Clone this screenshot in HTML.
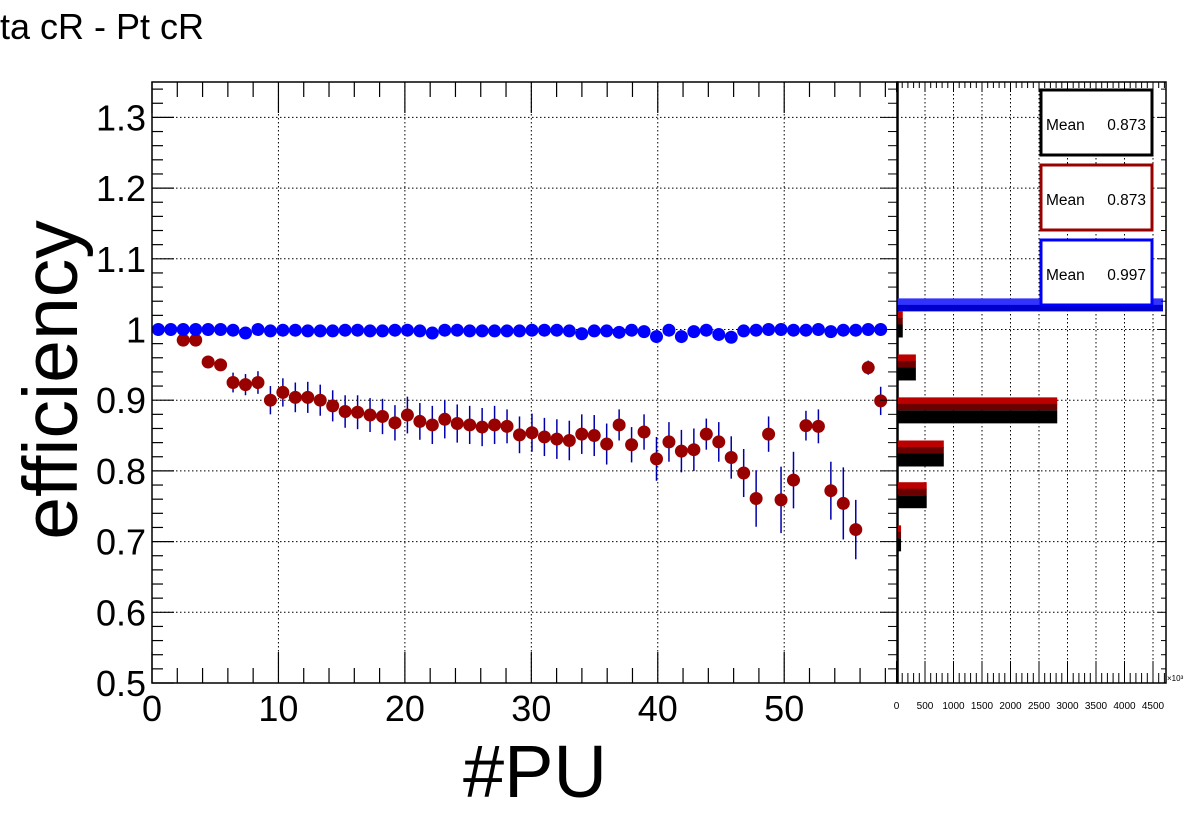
<!DOCTYPE html>
<html><head><meta charset="utf-8">
<style>
html,body{margin:0;padding:0;background:#fff;}
svg{display:block;font-family:"Liberation Sans",sans-serif;}
</style></head>
<body>
<svg id="chart" width="1196" height="822" viewBox="0 0 1196 822" xmlns="http://www.w3.org/2000/svg">
<text x="0" y="39" font-size="36" fill="#000">ta cR - Pt cR</text>
<g id="main"></g>
<g id="side"></g>
<text transform="translate(77,380) rotate(-90)" text-anchor="middle" font-size="77" fill="#000">efficiency</text>
<text x="535" y="797" text-anchor="middle" font-size="74" fill="#000">#PU</text>
</svg>
<script>
// ---- data ----
const blueVals = [1.0,1.0,1.0,1.0,1.0,1.0,0.999,0.995,1.0,0.998,0.999,0.999,0.998,0.998,0.998,0.999,0.999,0.998,0.998,0.999,0.999,0.998,0.995,0.999,0.999,0.998,0.998,0.998,0.998,0.998,0.999,0.999,0.999,0.998,0.994,0.998,0.998,0.996,0.999,0.997,0.990,0.999,0.990,0.997,0.999,0.993,0.989,0.998,0.999,1.0,1.0,0.999,0.999,1.0,0.997,0.999,0.999,1.0,1.0];
const redStart = 2;
const redVals = [0.985,0.985,0.954,0.950,0.925,0.922,0.925,0.900,0.911,0.904,0.904,0.900,0.892,0.884,0.883,0.879,0.877,0.868,0.879,0.870,0.865,0.873,0.867,0.865,0.862,0.865,0.863,0.851,0.854,0.848,0.845,0.843,0.852,0.850,0.838,0.865,0.837,0.855,0.817,0.841,0.828,0.830,0.852,0.841,0.819,0.797,0.761,0.852,0.759,0.787,0.864,0.863,0.772,0.754,0.717,0.946,0.899];
const redErrs = [0.004,0.004,0.006,0.008,0.014,0.015,0.016,0.02,0.02,0.021,0.022,0.022,0.022,0.023,0.024,0.024,0.025,0.025,0.026,0.026,0.027,0.027,0.027,0.027,0.027,0.027,0.024,0.026,0.027,0.027,0.028,0.028,0.028,0.029,0.029,0.022,0.025,0.025,0.031,0.028,0.03,0.03,0.022,0.028,0.03,0.034,0.04,0.025,0.047,0.04,0.021,0.024,0.041,0.051,0.042,0.01,0.02];
const yTicks = [0.5,0.6,0.7,0.8,0.9,1,1.1,1.2,1.3];
const yTickLabels = ["0.5","0.6","0.7","0.8","0.9","1","1.1","1.2","1.3"];
const xTicks = [0,10,20,30,40,50];
const xTickLabels = ["0","10","20","30","40","50"];
// projection histogram
const binTops = [1.0255,0.9647,0.904,0.843,0.784,0.723];
const binCounts = [110,340,2820,830,530,80];
const blueBinTop = 1.044;
const blueCount = 5600;
const sideTicks = [0,500,1000,1500,2000,2500,3000,3500,4000,4500];
const sideTickLabels = ["0","500","1000","1500","2000","2500","3000","3500","4000","4500"];
const statMeans = ["0.873","0.873","0.997"];

// ---- geometry ----
const NS="http://www.w3.org/2000/svg";
const L=152,R=898,T=82,B=683;
const SL=897,SR=1166;
const xMin=0,xMax=59;
const xs=v=>L+(v-xMin)/(xMax-xMin)*(R-L);
const ys=v=>683-(v-0.5)*707;
const ss=v=>896.5+v*(28.5/500);
const step=0.985;
const xIdx=i=>xs(0.5+i*step);
function mk(tag,attrs,parent){const e=document.createElementNS(NS,tag);for(const k in attrs)e.setAttribute(k,attrs[k]);parent.appendChild(e);return e;}
const main=document.getElementById('main');
const side=document.getElementById('side');

yTicks.forEach(v=>{const g=mk('line',{x1:L,x2:R,y1:ys(v),y2:ys(v),stroke:'#000','stroke-width':1,'stroke-dasharray':'1.5,2.5'},main);

});
xTicks.forEach(v=>{if(v===0)return;const g=mk('line',{x1:xs(v),x2:xs(v),y1:T,y2:B,stroke:'#000','stroke-width':1,'stroke-dasharray':'1.5,2.5'},main);

});
for(let v=0.5;v<=1.35001;v+=0.02){const maj=Math.abs(v*10-Math.round(v*10))<0.01;const len=maj?22:11;
mk('line',{x1:L,x2:L+len,y1:ys(v),y2:ys(v),stroke:'#000','stroke-width':1.2},main);}
for(let v=0;v<=59;v+=2){const maj=v%10===0;const len=maj?31:15;
mk('line',{x1:xs(v),x2:xs(v),y1:B,y2:B-len,stroke:'#000','stroke-width':1.2},main);
mk('line',{x1:xs(v),x2:xs(v),y1:T,y2:T+len,stroke:'#000','stroke-width':1.2},main);}
yTicks.forEach((v,i)=>{const t=mk('text',{x:146,y:ys(v)+13,'text-anchor':'end','font-size':36,fill:'#000'},main);t.textContent=yTickLabels[i];

});
xTicks.forEach((v,i)=>{const t=mk('text',{x:xs(v),y:721,'text-anchor':'middle','font-size':36,fill:'#000'},main);t.textContent=xTickLabels[i];

});

redVals.forEach((v,k)=>{const i=k+redStart;const x=xIdx(i);const e=redErrs[k];
mk('line',{x1:x,x2:x,y1:ys(v+e),y2:ys(v-e),stroke:'#0000aa','stroke-width':1.5},main);
mk('line',{x1:x-6,x2:x+6,y1:ys(v),y2:ys(v),stroke:'#0000aa','stroke-width':1},main);
const c=mk('circle',{cx:x,cy:ys(v),r:6.5,fill:'#990000'},main);

});
blueVals.forEach((v,i)=>{const x=xIdx(i);
const c=mk('circle',{cx:x,cy:ys(v),r:6.5,fill:'#0000ff'},main);

});
mk('rect',{x:L,y:T,width:R-L,height:B-T,fill:'none',stroke:'#000','stroke-width':1.5},main);

sideTicks.forEach(v=>{if(v===0)return;const g=mk('line',{x1:ss(v),x2:ss(v),y1:T,y2:B,stroke:'#000','stroke-width':1,'stroke-dasharray':'1.5,2.5'},side);

});
yTicks.forEach(v=>{const g=mk('line',{x1:SL,x2:SR,y1:ys(v),y2:ys(v),stroke:'#000','stroke-width':1,'stroke-dasharray':'1.5,2.5'},side);

});
binTops.forEach((top,i)=>{const y0=ys(top);const w=Math.min(ss(binCounts[i]),SR-3)-SL;
const b1=mk('rect',{x:SL,y:y0,width:w,height:7,fill:'#bb0000'},side);


mk('rect',{x:SL,y:y0+6.5,width:w,height:6.5,fill:'#6a0000'},side);
const b2=mk('rect',{x:SL,y:y0+13,width:w,height:13,fill:'#000'},side);

});
{const y0=ys(blueBinTop);const w=Math.min(ss(blueCount),SR-3)-SL;
const b=mk('rect',{x:SL,y:y0,width:w,height:7,fill:'#3333ff'},side);


mk('rect',{x:SL,y:y0+6.5,width:w,height:6.5,fill:'#0000cc'},side);}
for(let v=0;v<=4750;v+=100){const maj=v%500===0;const len=maj?22:10;
mk('line',{x1:ss(v),x2:ss(v),y1:B,y2:B-len,stroke:'#000','stroke-width':1},side);
mk('line',{x1:ss(v),x2:ss(v),y1:T,y2:T+(maj?10:6),stroke:'#000','stroke-width':1},side);}
for(let v=0.5;v<=1.35001;v+=0.02){const maj=Math.abs(v*10-Math.round(v*10))<0.01;
mk('line',{x1:SL-(maj?17:9),x2:SL,y1:ys(v),y2:ys(v),stroke:'#000','stroke-width':1},side);
mk('line',{x1:SR-(maj?8:5),x2:SR,y1:ys(v),y2:ys(v),stroke:'#000','stroke-width':1},side);}
sideTicks.forEach((v,i)=>{const t=mk('text',{x:ss(v),y:709,'text-anchor':'middle','font-size':10,fill:'#000'},side);t.textContent=sideTickLabels[i];

});
{const t=mk('text',{x:1167,y:681,'font-size':8,fill:'#000'},side);t.textContent='×10³';

}
mk('rect',{x:SL,y:T,width:SR-SL,height:B-T,fill:'none',stroke:'#000','stroke-width':1.5},side);
const boxCols=['#000','#990000','#0000ff'];const boxY=[90,165,240];
statMeans.forEach((m,i)=>{const g=mk('g',{},side);


mk('rect',{x:1041,y:boxY[i],width:111,height:65,fill:'#fff',stroke:boxCols[i],'stroke-width':3},g);
const t1=mk('text',{x:1046,y:boxY[i]+40,'font-size':15.5,fill:'#000'},g);t1.textContent='Mean';
const t2=mk('text',{x:1146,y:boxY[i]+40,'font-size':15.5,'text-anchor':'end',fill:'#000'},g);t2.textContent=m;});
</script>
</body></html>
